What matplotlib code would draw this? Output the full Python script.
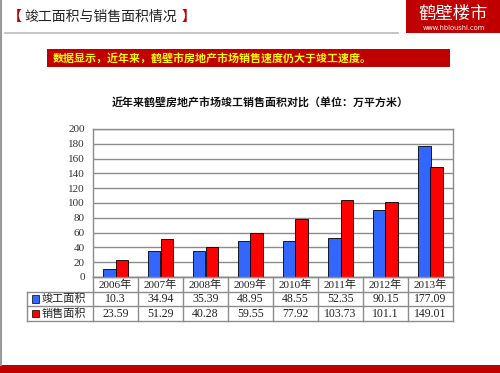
import matplotlib.pyplot as plt
from matplotlib.patches import Rectangle
from matplotlib.lines import Line2D

years = ['2006年', '2007年', '2008年', '2009年', '2010年', '2011年', '2012年', '2013年']
completed = [10.3, 34.94, 35.39, 48.95, 48.55, 52.35, 90.15, 177.09]
sold = [23.59, 51.29, 40.28, 59.55, 77.92, 103.73, 101.1, 149.01]
series_names = ['竣工面积', '销售面积']

W, H = 500, 373
blue = '#3366FF'
red = '#FF0000'
dark_red = '#C00000'
grid_gray = '#8C8C8C'
cjk = ['Noto Sans CJK SC', 'DejaVu Sans']
serif_cjk = ['Liberation Serif', 'Noto Sans CJK SC']

plt.rcParams['font.family'] = cjk


def fx(x):
  return x / W


def fy(y):
  return 1 - y / H


fig = plt.figure(figsize=(5, 3.73), dpi=100)
fig.patch.set_facecolor('white')

# page frame: left gray edge, header rule, bottom red band
fig.add_artist(Line2D([fx(1), fx(1)], [fy(0), fy(365)], color='#999999', lw=1.5))
fig.add_artist(Line2D([fx(5), fx(398)], [fy(33), fy(33)], color='#BBBBBB', lw=1.2))
fig.add_artist(Rectangle((0, 0), 1, 8 / H, transform=fig.transFigure, color=dark_red, lw=0))

# header title
fig.text(fx(22), fy(17), '【', color=dark_red, fontsize=10, va='center', ha='right', weight='bold')
fig.text(fx(24), fy(17), '竣工面积与销售面积情况', color='#222222', fontsize=10, va='center', ha='left')
fig.text(fx(182), fy(17), '】', color=dark_red, fontsize=10, va='center', ha='left', weight='bold')

# logo
fig.add_artist(Rectangle((fx(406), fy(33)), fx(94), 33 / H, transform=fig.transFigure,
                         color=dark_red, lw=0))
fig.text(fx(453), fy(14), '鹤壁楼市', color='white', fontsize=12.5, ha='center', va='center')
fig.text(fx(454), fy(27.5), 'www.hbloushi.com', color='white', fontsize=4.8,
         ha='center', va='center', family='DejaVu Sans')

# red banner
fig.add_artist(Rectangle((fx(47), fy(67)), fx(403), 18 / H, transform=fig.transFigure,
                         color=dark_red, lw=0))
fig.text(fx(53), fy(58), '数据显示，近年来，鹤壁市房地产市场销售速度仍大于竣工速度。',
         color='#FFFF00', fontsize=7.9, weight='bold', ha='left', va='center')

# chart title
fig.text(fx(260), fy(102), '近年来鹤壁房地产市场竣工销售面积对比（单位：万平方米）',
         color='#111111', fontsize=7.9, weight='bold', ha='center', va='center')

# bar chart
ax = fig.add_axes([fx(93), fy(277), fx(360), 148 / H])
n = len(years)
xs = list(range(n))
bw = 0.28
ax.bar([x - bw / 2 for x in xs], completed, width=bw, color=blue, edgecolor='black', lw=0.6, zorder=3)
ax.bar([x + bw / 2 for x in xs], sold, width=bw, color=red, edgecolor='black', lw=0.6, zorder=3)
ax.set_xlim(-0.5, n - 0.5)
ax.set_ylim(0, 200)
ax.set_yticks(range(0, 201, 20))
ax.set_xticks([])
ax.yaxis.grid(True, color=grid_gray, lw=1)
ax.set_axisbelow(True)
for s in ax.spines.values():
  s.set_color(grid_gray)
  s.set_linewidth(1)
ax.tick_params(axis='y', length=0, pad=6, labelsize=8, labelcolor='#333333')
for lab in ax.get_yticklabels():
  lab.set_family('Liberation Serif')

# data table under the chart
leg_w = 66 / 45
tab = fig.add_axes([fx(27), fy(321), fx(426), 44 / H])
tab.set_xlim(-0.5 - leg_w, n - 0.5)
tab.set_ylim(0, 3)
tab.axis('off')
line_kw = dict(color=grid_gray, lw=1, clip_on=False)
left = -0.5 - leg_w
tab.plot([-0.5, n - 0.5], [3, 3], **line_kw)
tab.plot([left, n - 0.5], [2, 2], **line_kw)
tab.plot([left, n - 0.5], [1, 1], **line_kw)
tab.plot([left, n - 0.5], [0, 0], **line_kw)
tab.plot([left, left], [0, 2], **line_kw)
for b in range(n + 1):
  tab.plot([b - 0.5, b - 0.5], [0, 3], **line_kw)

for i, yr in enumerate(years):
  tab.text(i, 2.5, yr, ha='center', va='center', fontsize=8, family=serif_cjk, color='#222222')
  tab.text(i, 1.5, f'{completed[i]:g}', ha='center', va='center', fontsize=8.5,
           family='Liberation Serif', color='#222222')
  tab.text(i, 0.5, f'{sold[i]:g}', ha='center', va='center', fontsize=8.5,
           family='Liberation Serif', color='#222222')

for row, name, col in [(1.5, series_names[0], blue), (0.5, series_names[1], red)]:
  tab.add_patch(Rectangle((left + 0.1, row - 0.24), 0.16, 0.48, facecolor=col,
                          edgecolor='black', lw=0.5, clip_on=False))
  tab.text(left + 0.33, row, name, ha='left', va='center', fontsize=8, color='#222222')

fig.savefig('out.png', dpi=100)
